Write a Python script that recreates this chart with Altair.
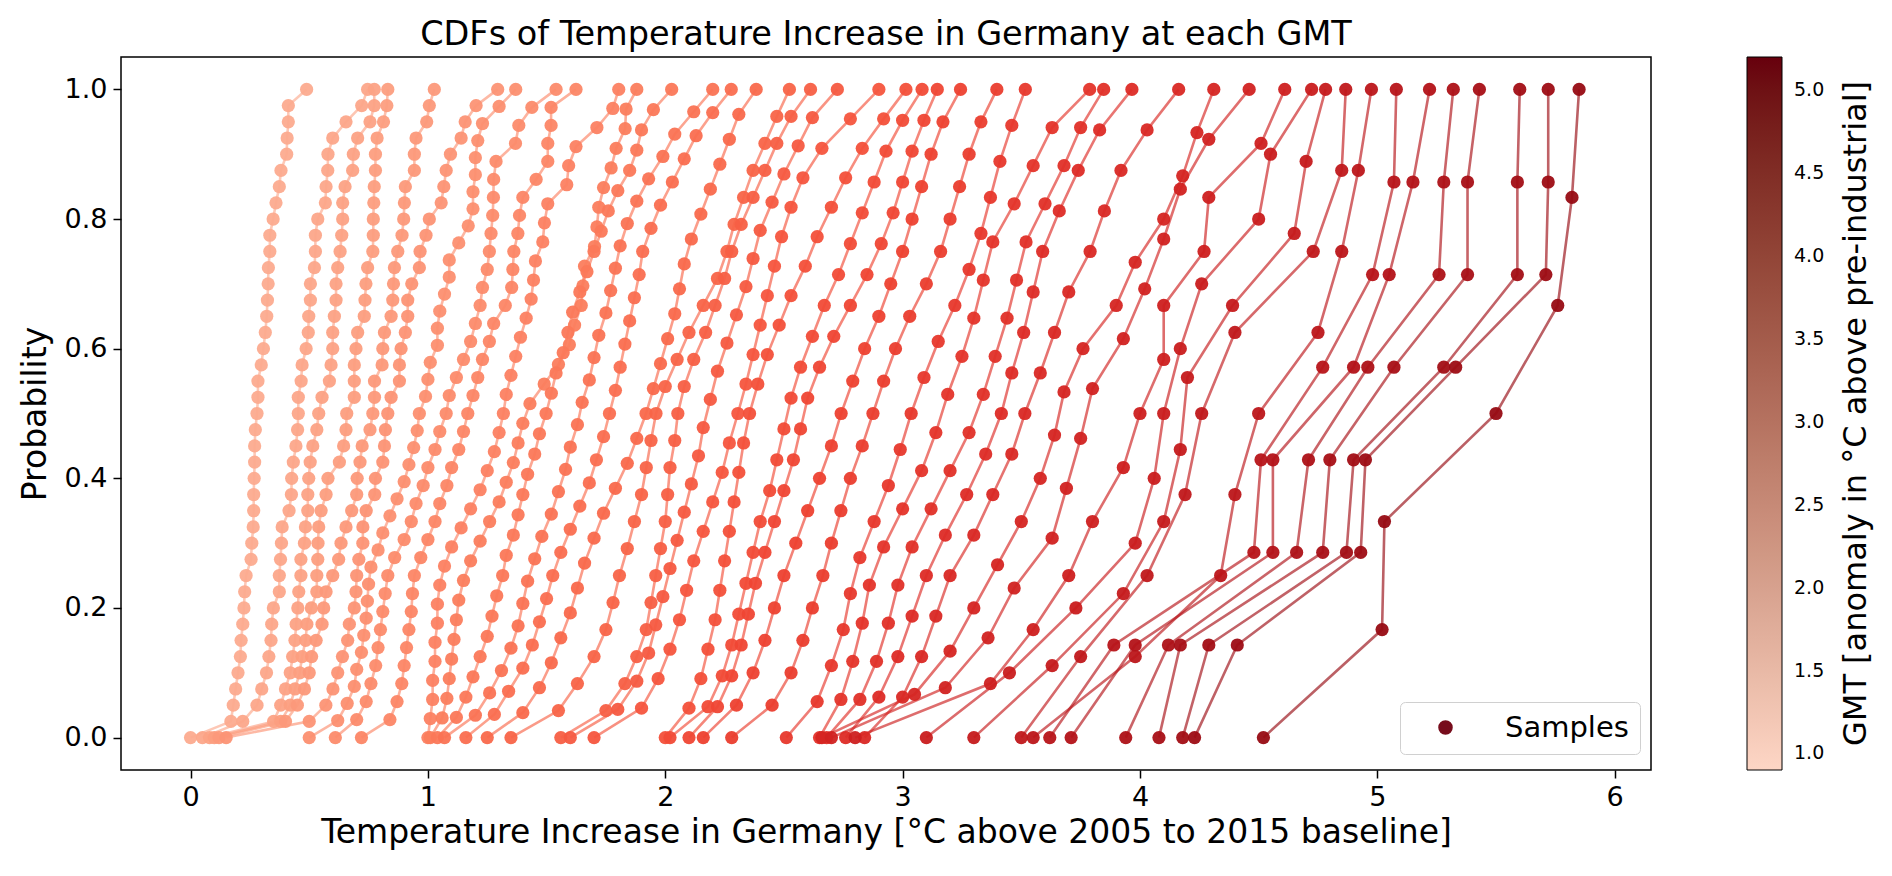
import altair as alt
import pandas as pd

# GMT level of each curve (colour), and the sorted sample values of each CDF
gmt_levels = [1.0, 1.1, 1.2, 1.3, 1.4, 1.5, 1.6, 1.7, 1.8, 1.9, 2.0, 2.1, 2.2, 2.3, 2.4,
              2.5, 2.6, 2.7, 2.8, 2.9, 3.0, 3.1, 3.2, 3.3, 3.4, 3.5, 3.6, 3.7, 3.8, 3.9,
              4.0, 4.1, 4.2, 4.3, 4.4, 4.5, 4.6, 4.7, 4.8, 4.9, 5.0, 5.1, 5.2]

cdf_01 = [0.00, 0.17, 0.18, 0.19, 0.20, 0.21, 0.213, 0.22, 0.225, 0.228, 0.234, 0.255, 0.258, 0.264,
          0.266, 0.266, 0.268, 0.27, 0.27, 0.273, 0.28, 0.284, 0.284, 0.298, 0.307, 0.315, 0.321,
          0.324, 0.327, 0.328, 0.334, 0.334, 0.348, 0.36, 0.374, 0.381, 0.405, 0.407, 0.412, 0.412, 0.489]
cdf_02 = [0.05, 0.22, 0.28, 0.30, 0.32, 0.33, 0.339, 0.342, 0.349, 0.374, 0.374, 0.379, 0.383, 0.386,
          0.415, 0.425, 0.426, 0.433, 0.444, 0.451, 0.454, 0.454, 0.466, 0.470, 0.487, 0.496, 0.498,
          0.505, 0.505, 0.522, 0.526, 0.526, 0.536, 0.568, 0.571, 0.578, 0.579, 0.599, 0.655, 0.721, 0.746]
cdf_03 = [0.08, 0.35, 0.38, 0.40, 0.42, 0.43, 0.44, 0.445, 0.452, 0.456, 0.465, 0.465, 0.48, 0.484,
          0.494, 0.494, 0.498, 0.504, 0.515, 0.532, 0.54, 0.554, 0.585, 0.592, 0.599, 0.599, 0.606,
          0.613, 0.613, 0.62, 0.63, 0.637, 0.641, 0.641, 0.651, 0.683, 0.686, 0.704, 0.756, 0.774, 0.774]
cdf_04 = [0.10, 0.38, 0.42, 0.44, 0.46, 0.47, 0.485, 0.49, 0.509, 0.532, 0.532, 0.536, 0.537, 0.54,
          0.55, 0.571, 0.579, 0.627, 0.645, 0.655, 0.658, 0.69, 0.69, 0.69, 0.697, 0.704, 0.732,
          0.735, 0.739, 0.746, 0.768, 0.77, 0.77, 0.772, 0.774, 0.779, 0.779, 0.786, 0.813, 0.827, 0.831]
cdf_05 = [0.12, 0.40, 0.45, 0.48, 0.50, 0.51, 0.529, 0.554, 0.561, 0.571, 0.599, 0.624, 0.634, 0.655,
          0.679, 0.70, 0.702, 0.714, 0.723, 0.756, 0.768, 0.775, 0.775, 0.807, 0.81, 0.817, 0.845,
          0.852, 0.855, 0.859, 0.873, 0.891, 0.898, 0.901, 0.905, 0.943, 0.943, 0.95, 0.995, 1.006, 1.027]
cdf_06 = [0.15, 0.50, 0.57, 0.60, 0.62, 0.64, 0.662, 0.669, 0.69, 0.697, 0.70, 0.709, 0.726, 0.726,
          0.74, 0.776, 0.779, 0.81, 0.817, 0.821, 0.831, 0.845, 0.88, 0.88, 0.887, 0.905, 0.915,
          0.915, 0.932, 0.964, 0.967, 0.992, 1.006, 1.056, 1.067, 1.077, 1.095, 1.14, 1.157, 1.203, 1.294]
cdf_07 = [0.50, 0.62, 0.66, 0.69, 0.70, 0.72, 0.73, 0.74, 0.745, 0.75, 0.76, 0.79, 0.81, 0.84, 0.87,
          0.90, 0.92, 0.94, 0.955, 0.964, 0.99, 1.00, 1.01, 1.04, 1.04, 1.05, 1.07, 1.09, 1.09, 1.13,
          1.17, 1.19, 1.19, 1.20, 1.20, 1.21, 1.23, 1.30, 1.37]
cdf_08 = [0.61, 0.70, 0.74, 0.76, 0.78, 0.79, 0.80, 0.81, 0.82, 0.831, 0.86, 0.90, 0.93, 0.95, 0.98,
          1.00, 1.03, 1.05, 1.077, 1.09, 1.12, 1.15, 1.18, 1.20, 1.22, 1.23, 1.25, 1.259, 1.266,
          1.273, 1.276, 1.277, 1.287, 1.369, 1.383, 1.438, 1.54]
cdf_09 = [0.72, 0.84, 0.87, 0.89, 0.90, 0.91, 0.92, 0.93, 0.935, 0.943, 0.97, 1.00, 1.03, 1.05, 1.08,
          1.10, 1.13, 1.15, 1.168, 1.19, 1.21, 1.23, 1.259, 1.277, 1.326, 1.353, 1.358, 1.362,
          1.379, 1.386, 1.40, 1.456, 1.505, 1.505, 1.519, 1.519, 1.624]
cdf_10 = [1.00, 1.01, 1.02, 1.02, 1.03, 1.03, 1.04, 1.04, 1.05, 1.07, 1.10, 1.14, 1.18, 1.22, 1.25,
          1.28, 1.30, 1.318, 1.33, 1.35, 1.37, 1.39, 1.414, 1.435, 1.445, 1.453, 1.484, 1.491,
          1.505, 1.585, 1.593, 1.624, 1.712, 1.779, 1.804]
cdf_11 = [1.01, 1.06, 1.08, 1.09, 1.10, 1.11, 1.12, 1.13, 1.15, 1.18, 1.22, 1.26, 1.30, 1.33, 1.36,
          1.38, 1.40, 1.43, 1.49, 1.55, 1.596, 1.618, 1.646, 1.653, 1.66, 1.702, 1.712, 1.72, 1.74,
          1.772, 1.793, 1.831, 1.835, 1.88]
cdf_12 = [1.04, 1.12, 1.16, 1.19, 1.22, 1.25, 1.27, 1.29, 1.315, 1.33, 1.36, 1.38, 1.40, 1.42, 1.45,
          1.47, 1.498, 1.52, 1.54, 1.57, 1.59, 1.61, 1.64, 1.67, 1.70, 1.73, 1.76, 1.80, 1.85, 1.88,
          1.90, 1.95, 2.027]
cdf_13 = [1.07, 1.20, 1.26, 1.31, 1.35, 1.38, 1.40, 1.42, 1.45, 1.48, 1.52, 1.55, 1.58, 1.60, 1.63,
          1.65, 1.68, 1.70, 1.72, 1.75, 1.77, 1.79, 1.81, 1.84, 1.88, 1.93, 1.99, 2.04, 2.12, 2.20]
cdf_14 = [1.16, 1.28, 1.34, 1.40, 1.44, 1.47, 1.50, 1.526, 1.56, 1.60, 1.64, 1.68, 1.71, 1.74, 1.765,
          1.79, 1.81, 1.83, 1.85, 1.87, 1.89, 1.905, 1.94, 1.98, 2.03, 2.08, 2.13, 2.20, 2.278]
cdf_15 = [1.25, 1.40, 1.47, 1.52, 1.56, 1.60, 1.63, 1.66, 1.70, 1.74, 1.79, 1.84, 1.88, 1.919, 1.95,
          1.98, 2.01, 2.04, 2.06, 2.08, 2.11, 2.15, 2.19, 2.23, 2.27, 2.31, 2.383]
cdf_16 = [1.35, 1.55, 1.63, 1.70, 1.75, 1.78, 1.807, 1.84, 1.87, 1.90, 1.92, 1.94, 1.961, 2.00, 2.05,
          2.10, 2.16, 2.22, 2.26, 2.29, 2.33, 2.37, 2.42, 2.47, 2.523]
cdf_17 = [1.56, 1.75, 1.83, 1.88, 1.92, 1.94, 1.96, 1.98, 2.00, 2.01, 2.02, 2.04, 2.053, 2.08, 2.12,
          2.17, 2.21, 2.25, 2.28, 2.32, 2.37, 2.42, 2.47, 2.53, 2.612]
cdf_18 = [1.60, 1.80, 1.88, 1.93, 1.96, 1.99, 2.02, 2.05, 2.08, 2.11, 2.14, 2.16, 2.19, 2.22, 2.26,
          2.30, 2.34, 2.37, 2.40, 2.45, 2.50, 2.56, 2.62, 2.725]
cdf_19 = [1.70, 1.90, 1.97, 2.02, 2.06, 2.09, 2.12, 2.16, 2.20, 2.24, 2.27, 2.306, 2.34, 2.37, 2.40,
          2.43, 2.46, 2.49, 2.53, 2.58, 2.66, 2.78, 2.90]
cdf_20 = [2.00, 2.10, 2.15, 2.18, 2.21, 2.23, 2.25, 2.27, 2.29, 2.31, 2.33, 2.355, 2.39, 2.43, 2.48,
          2.53, 2.59, 2.64, 2.70, 2.76, 2.83, 2.92, 3.014]
cdf_21 = [2.02, 2.18, 2.24, 2.28, 2.31, 2.34, 2.37, 2.40, 2.44, 2.47, 2.50, 2.53, 2.57, 2.62, 2.67,
          2.73, 2.78, 2.83, 2.88, 2.93, 3.00, 3.082]
cdf_22 = [2.10, 2.22, 2.28, 2.32, 2.35, 2.38, 2.42, 2.46, 2.50, 2.54, 2.57, 2.60, 2.65, 2.71, 2.78,
          2.85, 2.91, 2.96, 3.00, 3.04, 3.09, 3.146]
cdf_23 = [2.16, 2.30, 2.37, 2.42, 2.46, 2.50, 2.55, 2.60, 2.65, 2.70, 2.741, 2.79, 2.84, 2.90, 2.95,
          3.00, 3.04, 3.08, 3.12, 3.17, 3.244]
cdf_24 = [2.28, 2.45, 2.53, 2.58, 2.62, 2.664, 2.70, 2.74, 2.78, 2.83, 2.875, 2.92, 2.97, 3.03, 3.10,
          3.16, 3.20, 3.24, 3.28, 3.33, 3.397]
cdf_25 = [2.51, 2.64, 2.70, 2.75, 2.78, 2.82, 2.88, 2.94, 2.99, 3.036, 3.09, 3.15, 3.22, 3.28, 3.33,
          3.37, 3.41, 3.46, 3.517]
cdf_26 = [2.65, 2.74, 2.79, 2.83, 2.86, 2.92, 3.00, 3.08, 3.14, 3.19, 3.25, 3.30, 3.34, 3.38, 3.47,
          3.55, 3.63, 3.788]
cdf_27 = [2.68, 2.82, 2.89, 2.94, 2.98, 3.04, 3.12, 3.20, 3.28, 3.34, 3.39, 3.44, 3.48, 3.52, 3.60,
          3.68, 3.75, 3.847]
cdf_28 = [2.76, 2.90, 2.98, 3.04, 3.10, 3.18, 3.27, 3.35, 3.416, 3.46, 3.51, 3.55, 3.59, 3.66, 3.74,
          3.83, 3.966]
cdf_29 = [2.84, 3.00, 3.08, 3.14, 3.20, 3.30, 3.38, 3.46, 3.515, 3.58, 3.64, 3.70, 3.79, 3.85, 3.92,
          4.03, 4.163]
cdf_30 = [2.66, 3.05, 3.20, 3.30, 3.40, 3.50, 3.58, 3.64, 3.68, 3.76, 3.90, 3.98, 4.10, 4.18, 4.24, 4.311]
cdf_31 = [2.70, 3.18, 3.36, 3.47, 3.63, 3.69, 3.75, 3.80, 3.93, 4.02, 4.10, 4.17, 4.29, 4.46]
cdf_32 = [2.80, 3.37, 3.55, 3.70, 3.80, 3.93, 4.00, 4.10, 4.10, 4.27, 4.29, 4.51, 4.61]
cdf_33 = [3.10, 3.45, 3.73, 3.98, 4.06, 4.10, 4.17, 4.26, 4.50, 4.55, 4.723]
cdf_34 = [3.30, 3.63, 3.93, 4.10, 4.17, 4.20, 4.39, 4.65, 4.70, 4.782]
cdf_35 = [3.50, 3.75, 4.03, 4.19, 4.26, 4.40, 4.73, 4.85, 4.867]
cdf_36 = [3.55, 3.98, 4.34, 4.40, 4.50, 4.75, 4.85, 4.92, 4.975]
cdf_37 = [3.62, 3.89, 4.48, 4.51, 4.77, 4.98, 5.07, 5.08]
cdf_38 = [3.71, 3.98, 4.56, 4.56, 4.90, 5.05, 5.15, 5.22]
cdf_39 = [3.94, 4.12, 4.66, 4.71, 4.96, 5.26, 5.28, 5.32]
cdf_40 = [4.08, 4.17, 4.77, 4.80, 5.07, 5.38, 5.38, 5.43]
cdf_41 = [4.18, 4.29, 4.87, 4.90, 5.28, 5.59, 5.59, 5.60]
cdf_42 = [4.23, 4.41, 4.93, 4.95, 5.33, 5.71, 5.72, 5.72]
cdf_43 = [4.52, 5.02, 5.03, 5.50, 5.76, 5.82, 5.85]

curves = [cdf_01, cdf_02, cdf_03, cdf_04, cdf_05, cdf_06, cdf_07, cdf_08, cdf_09, cdf_10,
          cdf_11, cdf_12, cdf_13, cdf_14, cdf_15, cdf_16, cdf_17, cdf_18, cdf_19, cdf_20,
          cdf_21, cdf_22, cdf_23, cdf_24, cdf_25, cdf_26, cdf_27, cdf_28, cdf_29, cdf_30,
          cdf_31, cdf_32, cdf_33, cdf_34, cdf_35, cdf_36, cdf_37, cdf_38, cdf_39, cdf_40,
          cdf_41, cdf_42, cdf_43]

x_ticks = [0, 1, 2, 3, 4, 5, 6]
y_ticks = [0.0, 0.2, 0.4, 0.6, 0.8, 1.0]
cbar_ticks = [1.0, 1.5, 2.0, 2.5, 3.0, 3.5, 4.0, 4.5, 5.0]

rows = []
for gmt, xs in zip(gmt_levels, curves):
    n = len(xs)
    for i, v in enumerate(xs):
        rows.append({'gmt': gmt, 'curve': f'{gmt:.1f}', 'temp': v,
                     'prob': i / (n - 1), 'kind': 'Samples'})
df = pd.DataFrame(rows)
gmt_df = pd.DataFrame({'gmt': gmt_levels})

FONT = 'DejaVu Sans'
W, H = 1530, 713

x_enc = alt.X('temp:Q', scale=alt.Scale(domain=[-0.293, 6.153], nice=False, zero=False),
              axis=alt.Axis(values=x_ticks, format='d',
                            title='Temperature Increase in Germany [°C above 2005 to 2015 baseline]'))
y_enc = alt.Y('prob:Q', scale=alt.Scale(domain=[-0.05, 1.05], nice=False, zero=False),
              axis=alt.Axis(values=y_ticks, format='.1f', title='Probability', titlePadding=12))
reds = alt.Scale(scheme=alt.SchemeParams(name='reds', extent=[0.12, 1.0]), domain=[0.9, 5.2])

lines = alt.Chart(df).mark_line(strokeWidth=2.6, opacity=0.65).encode(
    x=x_enc, y=y_enc,
    color=alt.Color('gmt:Q', scale=reds, legend=None),
    detail='curve:N',
    order='prob:Q'
)

points = alt.Chart(df).mark_point(filled=True, size=175, opacity=0.95).encode(
    x=x_enc, y=y_enc,
    color=alt.Color('gmt:Q', scale=reds, legend=None),
    shape=alt.Shape('kind:N', scale=alt.Scale(domain=['Samples'], range=['circle']),
                    legend=alt.Legend(title=None, orient='none', legendX=1279, legendY=645,
                                      labelFontSize=29, labelFont=FONT, labelColor='black',
                                      symbolSize=170, symbolFillColor='#700010',
                                      symbolStrokeColor='#700010', symbolOffset=20,
                                      labelOffset=45, padding=11, strokeColor='#d0d0d0',
                                      cornerRadius=5, fillColor='white'))
)

# invisible layer carrying the colour bar
cbar = alt.Chart(gmt_df).mark_point(opacity=0).encode(
    x=alt.value(0), y=alt.value(0),
    color=alt.Color('gmt:Q',
                    scale=alt.Scale(domain=[0.9, 5.2], range=['#fdd6c5', '#67000d']),
                    legend=alt.Legend(title=None, orient='none', direction='vertical',
                                      legendX=1626, legendY=0, gradientLength=H,
                                      gradientThickness=35, values=cbar_ticks, format='.1f',
                                      labelFontSize=19, labelFont=FONT, labelColor='black',
                                      labelOffset=12, gradientStrokeColor='black',
                                      gradientStrokeWidth=1, labelOverlap=False))
)

cbar_title = alt.Chart(pd.DataFrame({'label': ['GMT [anomaly in °C above pre-industrial]']})).mark_text(
    angle=270, fontSize=32, font=FONT, color='black'
).encode(x=alt.value(1735), y=alt.value(H / 2), text='label:N')

chart = alt.layer(lines, points, cbar, cbar_title).resolve_scale(
    color='independent'
).properties(
    width=W, height=H,
    autosize='none',
    padding={'left': 113, 'top': 49, 'right': 225, 'bottom': 95},
    title=alt.TitleParams('CDFs of Temperature Increase in Germany at each GMT',
                          fontSize=33.5, font=FONT, fontWeight='normal', color='black',
                          anchor='middle', offset=2)
).configure_axis(
    labelFont=FONT, titleFont=FONT, labelFontSize=27, titleFontSize=33,
    titleFontWeight='normal', labelColor='black', titleColor='black',
    grid=False, domain=False, tickColor='black', tickSize=8, tickWidth=1.5,
    labelPadding=6
).configure_axisX(titlePadding=6).configure_legend(
    gradientVerticalMaxLength=900
).configure_view(stroke='black', strokeWidth=1.5)

chart.save('out.html', embed_options={'renderer': 'svg', 'actions': False})
